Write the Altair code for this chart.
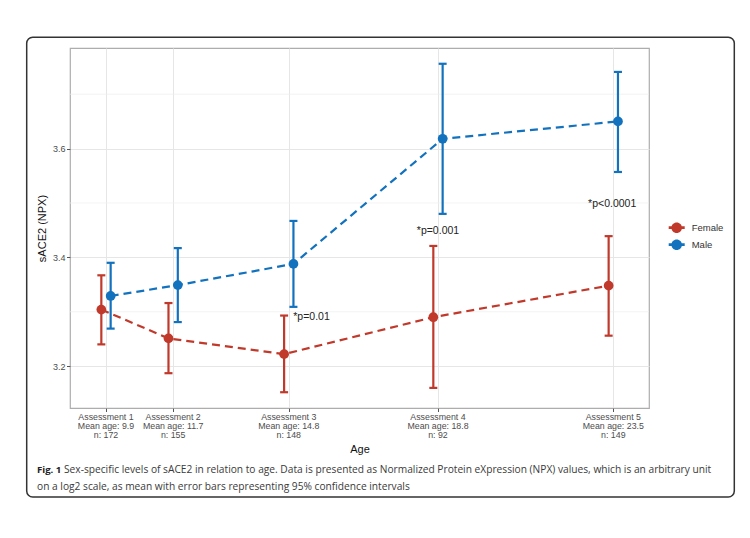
import altair as alt
import pandas as pd

# ---------------- data ----------------
ages = [9.9, 11.7, 14.8, 18.8, 23.5]
tick_labels = [
    "Assessment 1\nMean age: 9.9\nn: 172",
    "Assessment 2\nMean age: 11.7\nn: 155",
    "Assessment 3\nMean age: 14.8\nn: 148",
    "Assessment 4\nMean age: 18.8\nn: 92",
    "Assessment 5\nMean age: 23.5\nn: 149",
]
sexes = ["Female", "Male"]
female_mean = [3.304, 3.251, 3.222, 3.290, 3.348]
female_lo = [3.240, 3.187, 3.152, 3.160, 3.256]
female_hi = [3.367, 3.316, 3.293, 3.421, 3.439]
male_mean = [3.329, 3.349, 3.388, 3.618, 3.650]
male_lo = [3.269, 3.281, 3.309, 3.480, 3.557]
male_hi = [3.390, 3.417, 3.467, 3.756, 3.741]

y_major = [3.2, 3.4, 3.6]
y_minor = [3.3, 3.5, 3.7]

annot_text = ["*p=0.01", "*p=0.001", "*p<0.0001"]
annot_x = [15.41, 18.8, 23.47]
annot_y = [3.291, 3.448, 3.499]

caption_bold = "Fig. 1"
caption_line1 = ("Sex-specific levels of sACE2 in relation to age. Data is presented as "
                 "Normalized Protein eXpression (NPX) values, which is an arbitrary unit")
caption_line2 = "on a log2 scale, as mean with error bars representing 95% confidence intervals"

colors = ["#C0392B", "#1272BE"]

# ---------------- tables ----------------
rows = []
for i, a in enumerate(ages):
    rows.append(dict(sex="Female", age=a, mean=female_mean[i], lo=female_lo[i], hi=female_hi[i]))
    rows.append(dict(sex="Male", age=a, mean=male_mean[i], lo=male_lo[i], hi=male_hi[i]))
df = pd.DataFrame(rows)
ticks_df = pd.DataFrame({"age": ages, "label": tick_labels})
minor_df = pd.DataFrame({"v": y_minor})
annot_df = pd.DataFrame({"x": annot_x, "y": annot_y, "t": annot_text})
cap_df = pd.DataFrame({"b": [caption_bold], "l1": [caption_line1], "l2": [caption_line2]})

W, H = 579, 360
FONT = "Liberation Sans"

xs = alt.Scale(domain=[8.935, 24.457], nice=False, zero=False)
ys = alt.Scale(domain=[3.123, 3.785], nice=False, zero=False)
xaxis = alt.Axis(values=ages, labels=False, ticks=True, tickSize=3.5, tickColor="#555",
                 grid=True, gridColor="#e6e6e6", gridWidth=1, domain=False,
                 title="Age", titlePadding=31, titleFontSize=11, titleFontWeight="normal",
                 titleColor="#111", titleFont=FONT)
yaxis = alt.Axis(values=y_major, format=".1f", tickSize=3.5, tickColor="#555",
                 labelFontSize=9, labelColor="#4d4d4d", labelFont=FONT, labelPadding=1.5,
                 grid=True, gridColor="#e6e6e6", gridWidth=1, domain=False,
                 title="sACE2 (NPX)", titlePadding=5, titleFontSize=11, titleFontWeight="normal",
                 titleColor="#111", titleFont=FONT)


def xq(f):
    return alt.X(f"{f}:Q", scale=xs, axis=xaxis)


def yq(f):
    return alt.Y(f"{f}:Q", scale=ys, axis=yaxis)


color = alt.Color("sex:N", scale=alt.Scale(domain=sexes, range=colors),
                  legend=alt.Legend(title=None, orient="none", legendX=598.7, legendY=171.7,
                                    symbolType="M-1,-0.17 L1,-0.17 L1,0.17 L-1,0.17 Z M0.66,0 A0.66,0.66 0 1,1 -0.66,0 A0.66,0.66 0 1,1 0.66,0 Z",
                                    symbolSize=256, symbolStrokeWidth=0, symbolOpacity=1,
                                    labelOffset=7, rowPadding=3, padding=0, labelFontSize=9.5,
                                    labelColor="#333", labelFont=FONT))

base = alt.Chart(df).transform_calculate(
    xd="datum.age + (datum.sex == 'Female' ? -0.125 : 0.125)")

minor = alt.Chart(minor_df).mark_rule(color="#eeeeee", strokeWidth=0.7).encode(
    y=yq("v"), x=alt.value(0), x2=alt.value(W))

lines = base.mark_line(strokeDash=[8, 5], strokeWidth=2.2).encode(
    x=xq("xd"), y=yq("mean"), color=color, detail="sex:N")

bars = base.mark_errorbar(thickness=2.2, opacity=1,
                          rule={"opacity": 1},
                          ticks={"size": 8, "thickness": 2.2, "opacity": 1}).encode(
    x=xq("xd"), y=alt.Y("lo:Q", scale=ys, axis=yaxis), y2="hi:Q", color=color)

pts = base.mark_point(filled=True, size=95, opacity=1, shape="circle").encode(
    x=xq("xd"), y=yq("mean"), color=color)

tick_text = alt.Chart(ticks_df).mark_text(
    baseline="top", align="center", lineBreak="\n", lineHeight=9.2, fontSize=8.8,
    color="#4d4d4d", font=FONT).encode(x=xq("age"), y=alt.value(H + 5), text="label:N")

annot = alt.Chart(annot_df).mark_text(fontSize=10.5, color="#222", font=FONT).encode(
    x=xq("x"), y=yq("y"), text="t:N")

box = alt.Chart(cap_df).mark_rect(fill="transparent", stroke="#333", strokeWidth=1.5,
                                  cornerRadius=6).encode(
    x=alt.value(-43.3), x2=alt.value(664.3), y=alt.value(-10.7), y2=alt.value(449))

cap_b = alt.Chart(cap_df).mark_text(align="left", baseline="alphabetic", fontSize=9.6,
                                    fontWeight="bold", font="Open Sans", color="#222").encode(
    x=alt.value(-33), y=alt.value(425), text="b:N")
cap_1 = alt.Chart(cap_df).mark_text(align="left", baseline="alphabetic", fontSize=10.2,
                                    font="Open Sans", color="#3a3a3a").encode(
    x=alt.value(-6), y=alt.value(425), text="l1:N")
cap_2 = alt.Chart(cap_df).mark_text(align="left", baseline="alphabetic", fontSize=10.2,
                                    font="Open Sans", color="#3a3a3a").encode(
    x=alt.value(-33), y=alt.value(441.5), text="l2:N")

chart = alt.layer(minor, lines, bars, pts, tick_text, annot, box, cap_b, cap_1, cap_2).properties(
    width=W, height=H,
    autosize=alt.AutoSizeParams(type="none"),
    padding={"left": 70, "top": 48, "right": 101, "bottom": 130},
    background="white",
).configure_view(stroke="#adadad", strokeWidth=1.2)

chart.save("out.html", embed_options={"renderer": "svg", "actions": False})
